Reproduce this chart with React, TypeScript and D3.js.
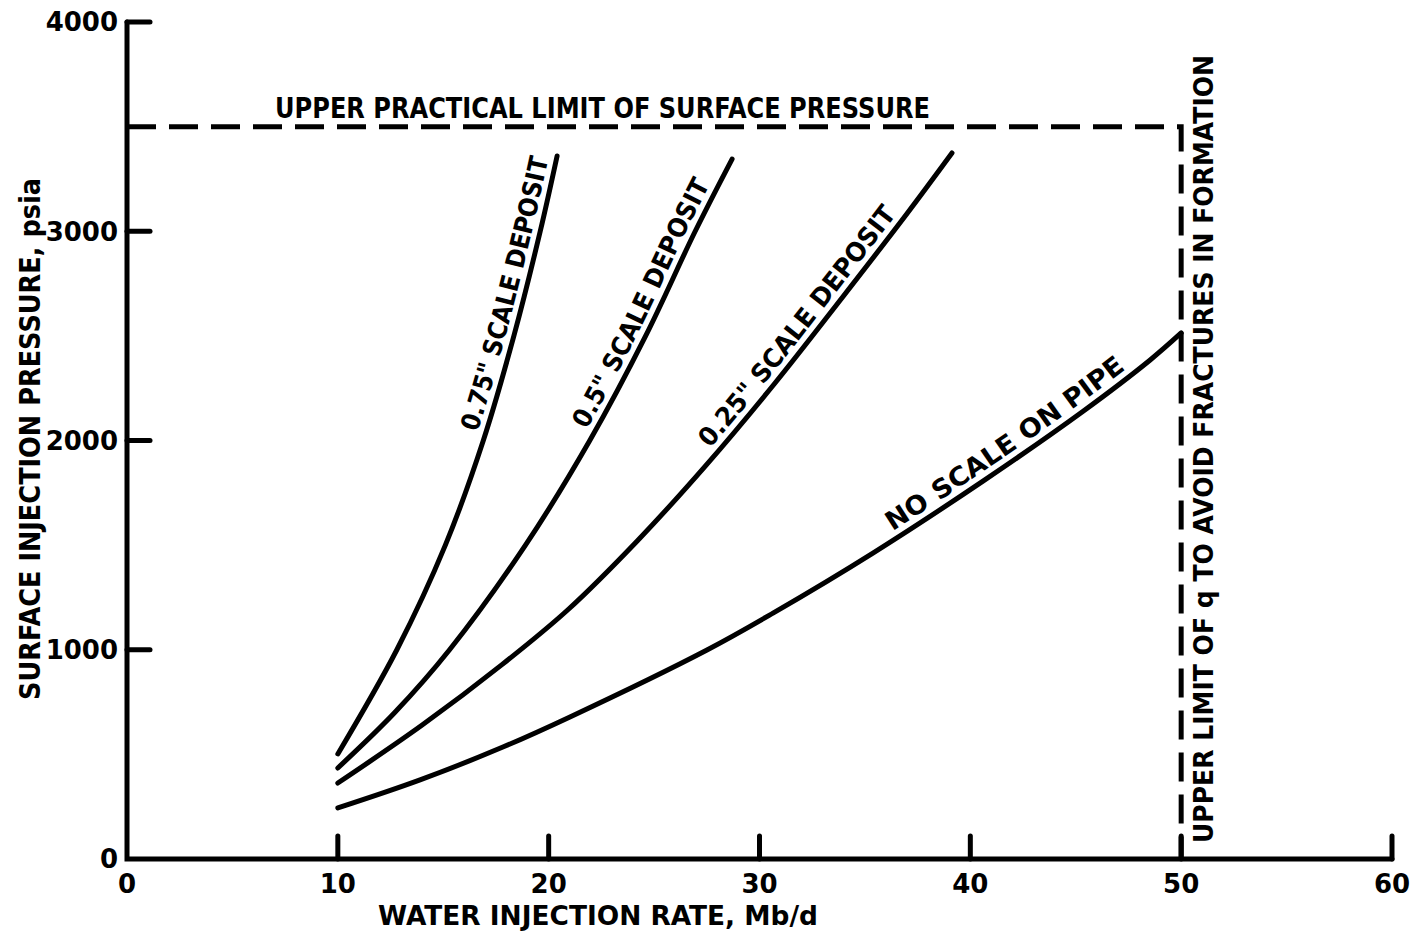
import React, { useMemo } from "react";
import * as d3 from "d3";

// --- Configuration ---
const W = 1418;
const H = 933;
const FONT = "'DejaVu Sans', Verdana, sans-serif";

const X_TICKS = [0, 10, 20, 30, 40, 50, 60];
const Y_TICKS = [0, 1000, 2000, 3000, 4000];
const PRESSURE_LIMIT = 3500; // psia
const RATE_LIMIT = 50; // Mb/d

// Water injection rate (Mb/d) vs surface injection pressure (psia)
const RATE_075 = [10, 12.8, 15.1, 16.9, 18.35, 19.6, 20.4];
const PSI_075 = [502, 1000, 1500, 2000, 2500, 3000, 3360];

const RATE_050 = [10, 12.7, 15.3, 18.9, 21.95, 24.6, 26.95, 28.7];
const PSI_050 = [435, 700, 1000, 1500, 2000, 2500, 3000, 3345];

const RATE_025 = [10, 14.0, 17.8, 20.9, 24.2, 27.45, 30.7, 33.9, 37.0, 39.13];
const PSI_025 = [363, 640, 930, 1190, 1520, 1880, 2270, 2680, 3085, 3374];

const RATE_NONE = [10, 13.9, 17.83, 21.01, 27.51, 30.64, 35.38, 40.6, 45.35, 48.53, 50];
const PSI_NONE = [244, 378, 535, 679, 999, 1175, 1462, 1806, 2140, 2385, 2514];

const SERIES = [
  { label: '0.75" SCALE DEPOSIT', rate: RATE_075, psi: PSI_075, labelEnd: 20.35, labelLen: 283 },
  { label: '0.5" SCALE DEPOSIT', rate: RATE_050, psi: PSI_050, labelEnd: 28.0, labelLen: 275 },
  { label: '0.25" SCALE DEPOSIT', rate: RATE_025, psi: PSI_025, labelEnd: 36.8, labelLen: 300 },
  { label: "NO SCALE ON PIPE", rate: RATE_NONE, psi: PSI_NONE, labelEnd: 47.6, labelLen: 285 },
];

// length along the polyline (px) up to a given x pixel
function offsetAtX(pts: [number, number][], xPx: number) {
  let acc = 0;
  for (let i = 1; i < pts.length; i++) {
    const [x0, y0] = pts[i - 1];
    const [x1, y1] = pts[i];
    const seg = Math.hypot(x1 - x0, y1 - y0);
    if (xPx <= x1) {
      const t = Math.max(0, (xPx - x0) / (x1 - x0));
      return acc + seg * t;
    }
    acc += seg;
  }
  return acc;
}

export default function App() {
  const { x, y, line } = useMemo(() => {
    const x = d3.scaleLinear().domain([0, 60]).range([127, 1392]);
    const y = d3.scaleLinear().domain([0, 4000]).range([859, 22]);
    const line = d3
      .line<[number, number]>()
      .x((d) => x(d[0]))
      .y((d) => y(d[1]))
      .curve(d3.curveCatmullRom.alpha(0.5));
    return { x, y, line };
  }, []);

  const x0 = x(0);
  const y0 = y(0);
  const TICK = 23;

  return (
    <svg
      width={W}
      height={H}
      style={{ position: "absolute", left: 0, top: 0, background: "#fff" }}
      fontFamily={FONT}
      fontWeight="bold"
    >
      <rect width={W} height={H} fill="#fff" />

      {/* limits */}
      <path
        d={`M${x0},${y(PRESSURE_LIMIT)}H${x(RATE_LIMIT)}V${y0}`}
        fill="none"
        stroke="#000"
        strokeWidth={5}
        strokeDasharray="29 13"
      />

      {/* axes */}
      <path
        d={`M${x0},${y(4000)}V${y0}H${x(60)}`}
        fill="none"
        stroke="#000"
        strokeWidth={5}
        strokeLinecap="round"
      />
      {X_TICKS.filter((t) => t > 0).map((t) => (
        <line
          key={t}
          x1={x(t)}
          x2={x(t)}
          y1={y0}
          y2={y0 - TICK}
          stroke="#000"
          strokeWidth={5}
          strokeLinecap="round"
        />
      ))}
      {Y_TICKS.filter((t) => t > 0).map((t) => (
        <line
          key={t}
          x1={x0}
          x2={x0 + TICK}
          y1={y(t)}
          y2={y(t)}
          stroke="#000"
          strokeWidth={5}
          strokeLinecap="round"
        />
      ))}

      {/* tick labels */}
      {X_TICKS.map((t) => (
        <text key={t} x={x(t)} y={893} textAnchor="middle" fontSize={26}>
          {t}
        </text>
      ))}
      {Y_TICKS.map((t) => (
        <text key={t} x={118} y={y(t)} dy="0.36em" textAnchor="end" fontSize={26}>
          {t}
        </text>
      ))}

      {/* curves */}
      {SERIES.map((s, i) => {
        const data = s.rate.map((r, j) => [r, s.psi[j]] as [number, number]);
        const pts = data.map((d) => [x(d[0]), y(d[1])] as [number, number]);
        const off = offsetAtX(pts, x(s.labelEnd));
        return (
          <g key={i}>
            <path
              id={`curve${i}`}
              d={line(data) || ""}
              fill="none"
              stroke="#000"
              strokeWidth={5}
              strokeLinecap="round"
            />
            <text fontSize={26} dy={-8}>
              <textPath
                href={`#curve${i}`}
                startOffset={off}
                textAnchor="end"
                textLength={s.labelLen}
                lengthAdjust="spacingAndGlyphs"
              >
                {s.label}
              </textPath>
            </text>
          </g>
        );
      })}

      {/* annotations */}
      <text x={275} y={118} fontSize={28} textLength={655} lengthAdjust="spacingAndGlyphs">
        UPPER PRACTICAL LIMIT OF SURFACE PRESSURE
      </text>
      <text
        transform="translate(1213,843) rotate(-90)"
        fontSize={26}
        textLength={788}
        lengthAdjust="spacingAndGlyphs"
      >
        UPPER LIMIT OF q TO AVOID FRACTURES IN FORMATION
      </text>

      {/* axis titles */}
      <text x={378} y={925} fontSize={27} textLength={440} lengthAdjust="spacingAndGlyphs">
        WATER INJECTION RATE, Mb/d
      </text>
      <text
        transform="translate(40,700) rotate(-90)"
        fontSize={28}
        textLength={522}
        lengthAdjust="spacingAndGlyphs"
      >
        SURFACE INJECTION PRESSURE, psia
      </text>
    </svg>
  );
}
